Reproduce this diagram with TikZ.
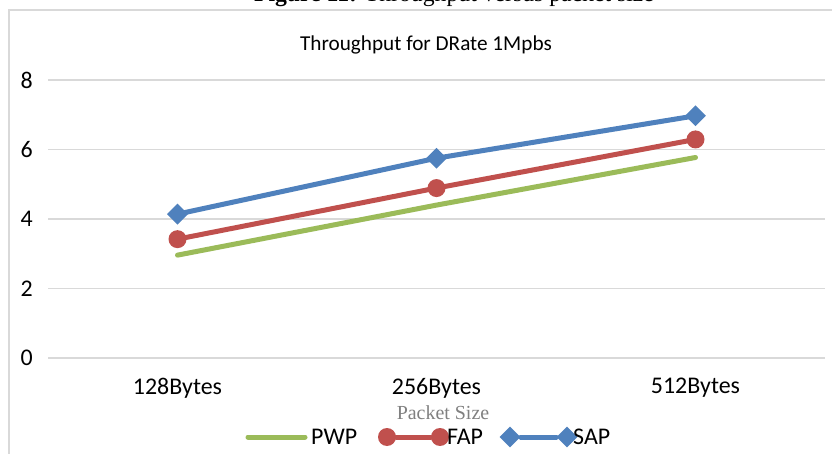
\documentclass[tikz,border=0pt]{standalone}
\usepackage{fontspec}
\setmainfont{Liberation Serif}
\newfontfamily\chartfont{Carlito}
\usetikzlibrary{shapes.geometric}
\definecolor{pwpgreen}{HTML}{9BBB59}
\definecolor{fapred}{HTML}{C0504D}
\definecolor{sapblue}{HTML}{4F81BD}
\definecolor{gridgray}{HTML}{D9D9D9}
\tikzset{
  ticklabel/.style={font=\fontsize{24}{27}\chartfont, inner sep=0pt},
  serieline/.style={line width=5bp, line cap=round, line join=round},
  dotmark/.style={circle, fill=fapred, minimum size=18bp, inner sep=0pt},
  diamark/.style={diamond, fill=sapblue, minimum size=21bp, inner sep=0pt}
}
\begin{document}
\begin{tikzpicture}[x=1bp, y=-1bp]
    \clip (0,0) rectangle (832,454);
    \fill[white] (0,0) rectangle (832,454);

    % Pie de figura (cortado por arriba)
    \node[anchor=base, font=\fontsize{23.8}{26}\selectfont, inner sep=0pt]
      (caption) at (454,2) {\textbf{Figure 11:} Throughput versus packet size};

    % Marco del gráfico
    \draw[gridgray, line width=1.5bp] (9,454) -- (9,10) -- (832,10);

    \node[font=\fontsize{21.3}{24}\chartfont] (title) at (426,45)
      {Throughput for DRate 1Mpbs};

    \begin{scope}[shift={(0,358)}, y=34.75bp]
      % Rejilla horizontal (0 ... 8)
      \foreach \v in {0,2,4,6,8} {
        \draw[gridgray, line width=1.5bp] (48,\v) -- (825,\v);
        \node[ticklabel, anchor=east] (tick\v) at (33,\v) {\v};
      }

      % Categorías
      \node[ticklabel] (cat1) at (177.5,-0.86) {128Bytes};
      \node[ticklabel] (cat2) at (436.5,-0.86) {256Bytes};
      \node[ticklabel] (cat3) at (695.5,-0.86) {512Bytes};
      \node[font=\fontsize{20}{22}\selectfont, text=gray, inner sep=0pt]
        (xlabel) at (443,-1.58) {Packet Size};

      % --- PWP ---
      \coordinate (pwp1) at (177.5,2.96);
      \coordinate (pwp2) at (436.5,4.40);
      \coordinate (pwp3) at (695.5,5.77);
      \draw[serieline, pwpgreen] (pwp1) -- (pwp2) -- (pwp3);

      % --- FAP ---
      \coordinate (fap1) at (177.5,3.42);
      \coordinate (fap2) at (436.5,4.89);
      \coordinate (fap3) at (695.5,6.29);
      \draw[serieline, fapred] (fap1) -- (fap2) -- (fap3);
      \foreach \p in {fap1,fap2,fap3}
        \node[dotmark] at (\p) {};

      % --- SAP ---
      \coordinate (sap1) at (177.5,4.14);
      \coordinate (sap2) at (436.5,5.75);
      \coordinate (sap3) at (695.5,6.97);
      \draw[serieline, sapblue] (sap1) -- (sap2) -- (sap3);
      \foreach \p in {sap1,sap2,sap3}
        \node[diamark] at (\p) {};
    \end{scope}

    % Leyenda
    \coordinate (lgA) at (248,437);
    \coordinate (lgB) at (305,437);
    \draw[serieline, pwpgreen] (lgA) -- (lgB);
    \node[ticklabel, anchor=west] (lpwp) at (311,437) {PWP};

    \node[dotmark] (lfapA) at (387,437) {};
    \node[dotmark] (lfapB) at (440,437) {};
    \draw[serieline, fapred] (lfapA) -- (lfapB);
    \node[ticklabel, anchor=west] (lfap) at (447,437) {FAP};

    \node[diamark] (lsapA) at (510,437) {};
    \node[diamark] (lsapB) at (567,437) {};
    \draw[serieline, sapblue] (lsapA) -- (lsapB);
    \node[ticklabel, anchor=west] (lsap) at (573,437) {SAP};
\end{tikzpicture}
\end{document}
